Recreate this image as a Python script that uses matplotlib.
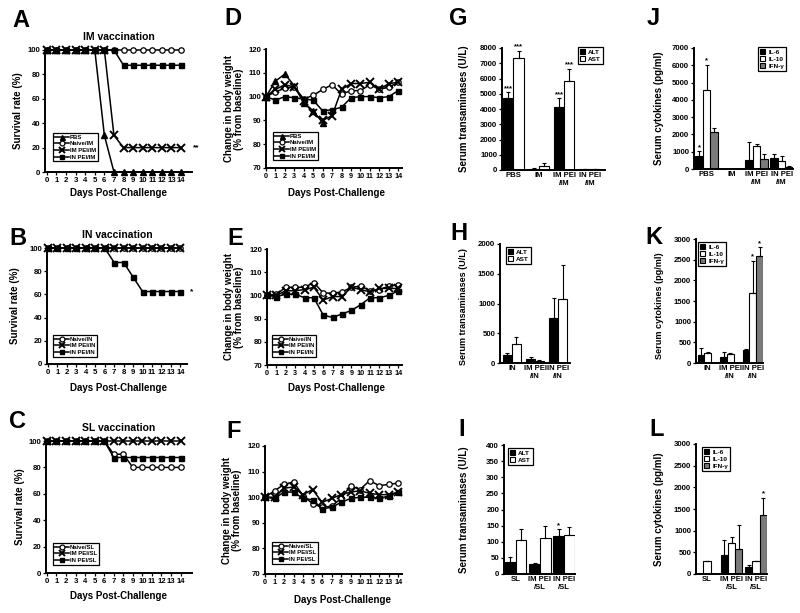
import matplotlib
matplotlib.use('Agg')
import matplotlib.pyplot as plt
import numpy as np

plt.rcParams['font.family'] = ['Liberation Sans', 'DejaVu Sans']
plt.rcParams['font.weight'] = 'bold'
plt.rcParams['axes.labelweight'] = 'bold'

# ---------------- data ----------------
days = list(range(15))

# Survival (%)
surv_A_labels = ['PBS', 'Naive/IM', 'IM PEI/IM', 'IN PEI/IM']
surv_A_pbs = [100, 100, 100, 100, 100, 100, 30, 0, 0, 0, 0, 0, 0, 0, 0]
surv_A_naive = [100] * 15
surv_A_impei = [100, 100, 100, 100, 100, 100, 100, 30, 20, 20, 20, 20, 20, 20, 20]
surv_A_inpei = [100, 100, 100, 100, 100, 100, 100, 100, 87.5, 87.5, 87.5, 87.5, 87.5, 87.5, 87.5]

surv_B_labels = ['Naive/IN', 'IM PEI/IN', 'IN PEI/IN']
surv_B_naive = [100] * 15
surv_B_impei = [100] * 15
surv_B_inpei = [100, 100, 100, 100, 100, 100, 100, 87.5, 87.5, 75, 62.5, 62.5, 62.5, 62.5, 62.5]

surv_C_labels = ['Naive/SL', 'IM PEI/SL', 'IN PEI/SL']
surv_C_naive = [100, 100, 100, 100, 100, 100, 100, 90, 90, 80, 80, 80, 80, 80, 80]
surv_C_impei = [100] * 15
surv_C_inpei = [100, 100, 100, 100, 100, 100, 100, 87.5, 87.5, 87.5, 87.5, 87.5, 87.5, 87.5, 87.5]

# Body weight (% of baseline)
bw_D_pbs = [100, 106.5, 109.5, 104.5, 97.5, 94, 89]
bw_D_naive = [100, 102, 103.5, 104, 99, 100.5, 103, 105, 101, 102.5, 102.5, 105, 103, 104, 106]
bw_D_impei = [100, 103, 105, 104, 98, 93, 90, 92, 103, 105.5, 105.5, 106, 103, 105.5, 106]
bw_D_inpei = [100, 98.5, 100, 99.5, 99, 98.5, 94, 94.5, 95.5, 99.5, 100, 100, 99.5, 100, 102.5]

bw_E_naive = [100, 100.5, 103.5, 103.5, 103.5, 105.5, 101, 101, 101.5, 103.5, 104, 102, 102.5, 104, 104.5]
bw_E_impei = [100, 100, 102, 102, 102.5, 103.5, 98, 99.5, 99.5, 103.5, 102.5, 101.5, 103, 103, 103]
bw_E_inpei = [100, 99.5, 100.5, 100.5, 99, 99, 91.5, 90.5, 92, 93.5, 96, 99, 99, 100, 102]

bw_F_naive = [100, 102.5, 105, 106, 100.5, 97.5, 96, 96.5, 99.5, 104.5, 103, 106.5, 104.5, 105, 105.5]
bw_F_impei = [100, 100, 103.5, 104, 101, 103, 98, 99.5, 101, 102, 102.5, 101.5, 101, 101, 102]
bw_F_inpei = [100, 99.5, 102, 102, 99.5, 99, 95.5, 96, 98, 99.5, 100, 100, 99.5, 100.5, 102]

# Transaminases (U/L)
G_cats = ['PBS', 'IM', 'IM PEI\n/IM', 'IN PEI\n/IM']
G_alt = [4750, 80, 4100, 50]
G_alt_err = [350, 50, 600, 20]
G_ast = [7350, 280, 5850, 60]
G_ast_err = [450, 150, 800, 20]

H_cats = ['IN', 'IM PEI\n/IN', 'IN PEI\n/IN']
H_alt = [128, 73, 754]
H_alt_err = [40, 22, 335]
H_ast = [318, 39, 1073]
H_ast_err = [112, 6, 575]

I_cats = ['SL', 'IM PEI\n/SL', 'IN PEI\n/SL']
I_alt = [37, 31, 119]
I_alt_err = [15, 3, 20]
I_ast = [106, 111, 122]
I_ast_err = [33, 39, 23]

# Cytokines (pg/ml)
J_cats = ['PBS', 'IM', 'IM PEI\n/IM', 'IN PEI\n/IM']
J_il6 = [767, 0, 537, 633]
J_il6_err = [250, 0, 1050, 250]
J_il10 = [4564, 0, 1342, 480]
J_il10_err = [1480, 0, 120, 290]
J_ifn = [2129, 0, 595, 115]
J_ifn_err = [270, 0, 285, 35]

K_cats = ['IN', 'IM PEI\n/IN', 'IN PEI\n/IN']
K_il6 = [186, 146, 308]
K_il6_err = [180, 122, 32]
K_il10 = [251, 227, 1686]
K_il10_err = [17, 16, 787]
K_ifn = [0, 0, 2578]
K_ifn_err = [0, 0, 222]

L_cats = ['SL', 'IM PEI\n/SL', 'IN PEI\n/SL']
L_il6 = [0, 446, 154]
L_il6_err = [0, 346, 61]
L_il10 = [292, 715, 292]
L_il10_err = [16, 139, 16]
L_ifn = [0, 585, 1369]
L_ifn_err = [0, 553, 385]

# ---------------- layout helpers ----------------
W, H = 800, 613
fig = plt.figure(figsize=(8, 6.13), dpi=100)


def box(x0, x1, yt, yb):
    return [x0 / W, 1 - yb / H, (x1 - x0) / W, (yb - yt) / H]


def ftext(x, y, s, **kw):
    fig.text(x / W, 1 - y / H, s, **kw)


def style_axes(ax):
    for s in ['top', 'right']:
        ax.spines[s].set_visible(False)
    for s in ['left', 'bottom']:
        ax.spines[s].set_linewidth(1.4)
    ax.tick_params(direction='out', length=2, width=0.9, labelsize=5.6, pad=1.5)
    for lab in ax.get_xticklabels() + ax.get_yticklabels():
        lab.set_fontweight('bold')


MK = {
    '^': dict(marker='^', ms=4.0, mfc='black', mec='black'),
    'o': dict(marker='o', ms=3.9, mfc='white', mec='black', mew=0.9),
    'x': dict(marker='x', ms=5.2, mec='black', mew=1.4),
    's': dict(marker='s', ms=3.6, mfc='black', mec='black'),
}


def line_panel(ax, series, labels, marks, leg_xy):
    for y, lab, m in zip(series, labels, marks):
        ax.plot(days[:len(y)], y, color='black', lw=1.1, label=lab, clip_on=False, zorder=3, **MK[m])
    ax.legend(loc='upper left', bbox_to_anchor=(leg_xy[0] / W, 1 - leg_xy[1] / H),
              bbox_transform=fig.transFigure, frameon=True, fancybox=False,
              edgecolor='black', framealpha=1, handlelength=2.4, handletextpad=0.2,
              borderpad=0.25, labelspacing=0.25, borderaxespad=0, markerscale=0.9,
              prop={'weight': 'bold', 'size': 4.3})
    ax.get_legend().get_frame().set_linewidth(0.9)


def bar_panel(ax, cats, vals, errs, colors, labels, width, leg_xy):
    n = len(vals)
    x = np.arange(len(cats))
    pos_all = []
    for i, (v, e, c, l) in enumerate(zip(vals, errs, colors, labels)):
        pos = x + (i - (n - 1) / 2) * width
        pos_all.append(pos)
        ax.bar(pos, v, width, color=c, edgecolor='black', lw=0.8, label=l, zorder=2)
        v = np.array(v, float)
        e = np.array(e, float)
        m = e > 0
        ax.errorbar(pos[m], v[m], yerr=[np.zeros(m.sum()), e[m]], fmt='none', ecolor='black',
                    elinewidth=0.8, capsize=1.3, capthick=0.8, zorder=3)
    ax.set_xticks(x)
    ax.set_xticklabels(cats, fontsize=5.6, fontweight='bold', linespacing=1.1)
    ax.tick_params(axis='x', length=0, pad=2)
    ax.legend(loc='upper left', bbox_to_anchor=(leg_xy[0] / W, 1 - leg_xy[1] / H),
              bbox_transform=fig.transFigure, frameon=True, fancybox=False,
              edgecolor='black', framealpha=1, handlelength=0.8, handleheight=0.8,
              handletextpad=0.5, borderpad=0.3, labelspacing=0.25, borderaxespad=0,
              prop={'weight': 'bold', 'size': 4.6})
    ax.get_legend().get_frame().set_linewidth(0.9)
    return pos_all


def star(ax, x, y, s):
    ax.annotate(s, (x, y), xytext=(0, 0.3), textcoords='offset points', ha='center', va='bottom',
                fontsize=5.5, fontweight='bold')


# ---------------- survival panels ----------------
axA = fig.add_axes(box(45, 192, 50, 172))
line_panel(axA, [surv_A_pbs, surv_A_naive, surv_A_impei, surv_A_inpei], surv_A_labels,
           ['^', 'o', 'x', 's'], (53, 133))
axB = fig.add_axes(box(47, 187, 248, 364))
line_panel(axB, [surv_B_naive, surv_B_impei, surv_B_inpei], surv_B_labels, ['o', 'x', 's'], (53, 335))
axC = fig.add_axes(box(46, 192, 441, 573))
line_panel(axC, [surv_C_naive, surv_C_impei, surv_C_inpei], surv_C_labels, ['o', 'x', 's'], (53, 543))

for ax, xl, title in [(axA, (-0.2, 15.15), 'IM vaccination'), (axB, (-0.1, 14.7), 'IN vaccination'),
                      (axC, (-0.1, 15.2), 'SL vaccination')]:
    ax.set_xlim(*xl)
    ax.set_ylim(0, 100)
    ax.set_xticks(days)
    ax.set_yticks([0, 20, 40, 60, 80, 100])
    ax.set_title(title, fontsize=7.5, fontweight='bold', pad=7)
    style_axes(ax)

axA.text(15.3, 20, '**', fontsize=6, fontweight='bold', va='center', ha='left')
axB.text(15.0, 62.5, '*', fontsize=6, fontweight='bold', va='center', ha='left')

# ---------------- body weight panels ----------------
axD = fig.add_axes(box(266, 402, 49, 168))
line_panel(axD, [bw_D_pbs, bw_D_naive, bw_D_impei, bw_D_inpei], surv_A_labels,
           ['^', 'o', 'x', 's'], (273, 132))
axE = fig.add_axes(box(267, 402, 249, 365))
line_panel(axE, [bw_E_naive, bw_E_impei, bw_E_inpei], surv_B_labels, ['o', 'x', 's'], (272, 335))
axF = fig.add_axes(box(265, 402, 446, 574))
line_panel(axF, [bw_F_naive, bw_F_impei, bw_F_inpei], surv_C_labels, ['o', 'x', 's'], (272, 542))
for ax in [axD, axE, axF]:
    ax.set_xlim(0, 14.4)
    ax.set_ylim(70, 120)
    ax.set_xticks(days)
    ax.set_yticks([70, 80, 90, 100, 110, 120])
    style_axes(ax)
    ax.tick_params(axis='x', labelsize=5.2)

# axis labels
for (x, y) in [(118, 193), (118, 388), (119, 596), (336, 193), (337, 388), (342, 600)]:
    ftext(x, y, 'Days Post-Challenge', fontsize=7, fontweight='bold', ha='center', va='center')
for (x, y) in [(18, 111), (15, 306), (20, 507)]:
    ftext(x, y, 'Survival rate (%)', fontsize=7, fontweight='bold', ha='center', va='center', rotation=90)
for (x, y) in [(234, 109), (234, 307), (232, 510)]:
    ftext(x, y, 'Change in body weight\n(% from baseline)', fontsize=7, fontweight='bold',
          ha='center', va='center', rotation=90, linespacing=1.0, multialignment='center')

# ---------------- transaminase panels ----------------
AL_COL = ['black', 'white']
axG = fig.add_axes(box(502, 605, 48, 170))
pG = bar_panel(axG, G_cats, [G_alt, G_ast], [G_alt_err, G_ast_err], AL_COL, ['ALT', 'AST'], 0.4, (578, 47))
axG.set_xlim(-0.45, 3.6)
axG.set_ylim(0, 8000)
axG.set_yticks(range(0, 8001, 1000))
for i in [0, 2]:
    star(axG, pG[0][i], G_alt[i] + G_alt_err[i], '***')
    star(axG, pG[1][i], G_ast[i] + G_ast_err[i], '***')

axH = fig.add_axes(box(500, 570, 244, 363))
bar_panel(axH, H_cats, [H_alt, H_ast], [H_alt_err, H_ast_err], AL_COL, ['ALT', 'AST'], 0.39, (506, 247))
axH.set_xlim(-0.52, 2.52)
axH.set_ylim(0, 2000)
axH.set_yticks(range(0, 2001, 500))

axI = fig.add_axes(box(504, 575, 445, 574))
pI = bar_panel(axI, I_cats, [I_alt, I_ast], [I_alt_err, I_ast_err], AL_COL, ['ALT', 'AST'], 0.44, (508, 448))
axI.set_xlim(-0.48, 2.45)
axI.set_ylim(0, 400)
axI.set_yticks(range(0, 401, 50))
star(axI, pI[0][2], I_alt[2] + I_alt_err[2], '*')

# ---------------- cytokine panels ----------------
CY_COL = ['black', 'white', '#7a7a7a']
CY_LAB = ['IL-6', 'IL-10', 'IFN-γ']
axJ = fig.add_axes(box(694, 793, 48, 169))
pJ = bar_panel(axJ, J_cats, [J_il6, J_il10, J_ifn], [J_il6_err, J_il10_err, J_ifn_err], CY_COL, CY_LAB,
               0.3, (758, 47))
axJ.set_xlim(-0.5, 3.45)
axJ.set_ylim(0, 7000)
axJ.set_yticks(range(0, 7001, 1000))
star(axJ, pJ[0][0], J_il6[0] + J_il6_err[0], '*')
star(axJ, pJ[1][0], J_il10[0] + J_il10_err[0], '*')

axK = fig.add_axes(box(696, 763, 239, 363))
pK = bar_panel(axK, K_cats, [K_il6, K_il10, K_ifn], [K_il6_err, K_il10_err, K_ifn_err], CY_COL, CY_LAB,
               0.3, (698, 242))
axK.set_xlim(-0.52, 2.45)
axK.set_ylim(0, 3000)
axK.set_yticks(range(0, 3001, 500))
star(axK, pK[1][2], K_il10[2] + K_il10_err[2], '*')
star(axK, pK[2][2], K_ifn[2] + K_ifn_err[2], '*')

axL = fig.add_axes(box(696, 767, 444, 574))
pL = bar_panel(axL, L_cats, [L_il6, L_il10, L_ifn], [L_il6_err, L_il10_err, L_ifn_err], CY_COL, CY_LAB,
               0.29, (702, 447))
axL.set_xlim(-0.45, 2.45)
axL.set_ylim(0, 3000)
axL.set_yticks(range(0, 3001, 500))
star(axL, pL[2][2], L_ifn[2] + L_ifn_err[2], '*')

for ax in [axG, axH, axI, axJ, axK, axL]:
    style_axes(ax)
    ax.tick_params(axis='x', length=0)

for (x, y, fs) in [(464, 109, 7), (464, 307, 6.5), (464, 510, 7)]:
    ftext(x, y, 'Serum transaminases (U/L)', fontsize=fs, fontweight='bold', ha='center', va='center', rotation=90)
for (x, y, fs) in [(659, 108, 7), (659, 306, 6.6), (659, 509, 7)]:
    ftext(x, y, 'Serum cytokines (pg/ml)', fontsize=fs, fontweight='bold', ha='center', va='center', rotation=90)

# ---------------- panel letters ----------------
letters = {'A': (12, 9), 'B': (9, 227), 'C': (9, 410), 'D': (224, 7), 'E': (227, 227), 'F': (226, 420),
           'G': (449, 7), 'H': (450, 222), 'I': (458, 418), 'J': (647, 7), 'K': (645, 226), 'L': (649, 418)}
for k, (x, y) in letters.items():
    ftext(x, y, k, fontsize=17, fontweight='heavy', ha='left', va='top')

fig.savefig('out.png', dpi=100)
